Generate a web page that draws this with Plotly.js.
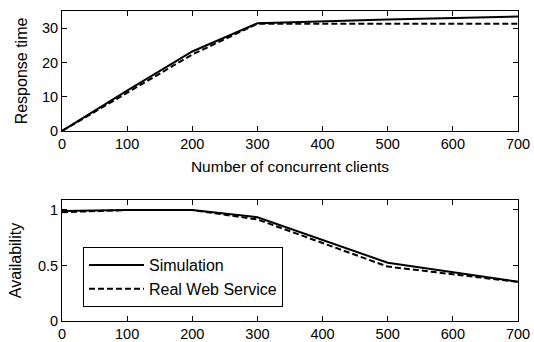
<!DOCTYPE html>
<html>
<head>
<meta charset="utf-8">
<script src="https://cdn.plot.ly/plotly-3.0.1.min.js"></script>
<style>html,body{margin:0;padding:0;background:#fff;}#chart{width:534px;height:342px;}</style>
</head>
<body>
<div id="chart"></div>
<script>
const clients = [0, 100, 200, 300, 500, 700];
const simResponse = [0, 11.8, 23.2, 31.4, 32.5, 33.4];
const realResponse = [0, 11.1, 22.3, 31.3, 31.3, 31.3];
const simAvail = [0.99, 1.0, 1.0, 0.935, 0.525, 0.354];
const realAvail = [0.98, 1.0, 1.0, 0.915, 0.49, 0.352];
const xTicks = [0, 100, 200, 300, 400, 500, 600, 700];

const fam = 'Liberation Sans, Arial, sans-serif';
const tickFont = {family: fam, size: 14.5, color: '#000'};
const titleFont = {family: fam, size: 16, color: '#000'};
const solid = {color: '#000', width: 2, dash: 'solid'};
const dashed = {color: '#000', width: 2, dash: '6px,3px'};

const traces = [
  {x: clients, y: simResponse, mode: 'lines', line: solid, xaxis: 'x', yaxis: 'y', showlegend: false, name: 'Simulation'},
  {x: clients, y: realResponse, mode: 'lines', line: dashed, xaxis: 'x', yaxis: 'y', showlegend: false, name: 'Real Web Service'},
  {x: clients, y: simAvail, mode: 'lines', line: solid, xaxis: 'x2', yaxis: 'y2', name: 'Simulation'},
  {x: clients, y: realAvail, mode: 'lines', line: dashed, xaxis: 'x2', yaxis: 'y2', name: 'Real Web Service'}
];

const axisCommon = {
  showgrid: false, zeroline: false, showline: true, linecolor: '#000', linewidth: 1,
  mirror: 'allticks', ticks: 'inside', ticklen: 5, tickcolor: '#000', tickwidth: 1,
  tickfont: tickFont, automargin: false
};

const layout = {
  width: 534, height: 342,
  margin: {l: 62, r: 16, t: 11, b: 21},
  paper_bgcolor: '#fff', plot_bgcolor: '#fff',
  font: tickFont,
  xaxis: Object.assign({}, axisCommon, {domain: [0, 1], anchor: 'y', range: [0, 700], tickvals: xTicks,
    title: {text: 'Number of concurrent clients', font: {family: fam, size: 15.5, color: '#000'}, standoff: 9}}),
  yaxis: Object.assign({}, axisCommon, {domain: [0.6129, 1], anchor: 'x', range: [0, 35], tickvals: [0, 10, 20, 30],
    title: {text: 'Response time', font: titleFont, standoff: 10}}),
  xaxis2: Object.assign({}, axisCommon, {domain: [0, 1], anchor: 'y2', range: [0, 700], tickvals: xTicks}),
  yaxis2: Object.assign({}, axisCommon, {domain: [0, 0.3903], anchor: 'x2', range: [0, 1.09], tickvals: [0, 0.5, 1],
    ticktext: ['0', '0.5', '1'], title: {text: 'Availability', font: titleFont, standoff: 12}}),
  showlegend: true,
  legend: {x: 0.046, y: 0.2387, xanchor: 'left', yanchor: 'top', bgcolor: '#fff',
    bordercolor: '#000', borderwidth: 1, font: titleFont, tracegroupgap: 0, itemwidth: 55}
};

Plotly.newPlot('chart', traces, layout, {displayModeBar: false, staticPlot: true});
</script>
</body>
</html>
